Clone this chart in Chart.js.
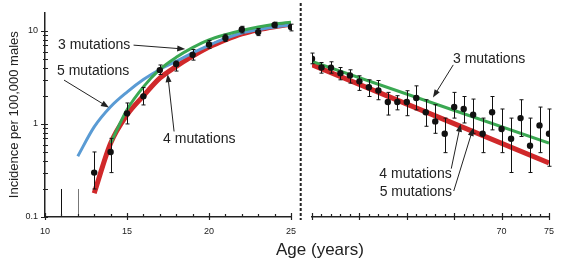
<!DOCTYPE html>
<html>
<head>
<meta charset="utf-8">
<script src="https://cdn.jsdelivr.net/npm/chart.js@4.4.1/dist/chart.umd.min.js"></script>
<style>
  html, body { margin: 0; padding: 0; background: #fff; }
  #wrap { position: relative; width: 563px; height: 262px; overflow: hidden; }
  #wrap canvas { position: absolute; left: 0; top: 0; }
  #xtitle {
    position: absolute; left: 276px; top: 241px;
    font: 17px/17px "Liberation Sans", Arial, sans-serif; color: #222;
  }
</style>
</head>
<body>
<div id="wrap">
  <canvas id="youngChart" width="563" height="262"></canvas>
  <canvas id="oldChart" width="563" height="262"></canvas>
  <div id="xtitle">Age (years)</div>
</div>
<script>
/* ========================================
   Incidence vs age, early onset (10-25) and late (50-75)
   ======================================== */

// --- early onset panel: observed incidence with error bars ---
const youngAges = [11, 12, 13, 14, 15, 16, 17, 18, 19, 20, 21, 22, 23, 24, 25];
const youngRate = [null, null, 0.30, 0.50, 1.30, 1.98, 3.79, 4.40, 5.53, 7.14, 8.40, 10.35, 9.70, 11.6, 11.0];
const youngLow  = [0.10, 0.10, 0.20, 0.30, 1.00, 1.60, 3.40, 3.70, 4.85, 6.50, 7.70, 9.50, 8.90, 10.8, 10.0];
const youngHigh = [0.20, 0.20, 0.50, 0.70, 1.68, 2.46, 4.30, 4.74, 6.30, 7.90, 9.20, 11.2, 10.6, 12.4, 11.8];

// --- early onset panel: model fits ---
const fit3Ages = [14, 15, 16, 17, 18, 19, 20, 21, 22, 23, 24, 25];
const fit3Young = [0.62, 1.42, 2.5, 3.85, 5.2, 6.6, 8.0, 9.1, 10.1, 11.0, 11.8, 12.4];
const fit4Ages = [13, 14, 15, 16, 17, 18, 19, 20, 21, 22, 23, 24, 25];
const fit4Young = [0.18, 0.62, 1.25, 2.0, 3.1, 4.15, 5.35, 6.7, 8.0, 9.3, 10.3, 11.1, 11.8];
const fit5Ages = [12, 13, 14, 15, 16, 17, 18, 19, 20, 21, 22, 23, 24, 25];
const fit5Young = [0.45, 0.93, 1.53, 2.2, 3.0, 3.85, 4.7, 5.8, 7.0, 8.3, 9.5, 10.3, 11.0, 11.6];

// --- late panel: observed incidence with error bars ---
const oldAges = [50, 51, 52, 53, 54, 55, 56, 57, 58, 59, 60, 61, 62, 63, 64, 65, 66, 67, 68, 69, 70, 71, 72, 73, 74, 75];
const oldRate = [4.98, 4.02, 4.00, 3.49, 3.30, 2.85, 2.46, 2.28, 1.71, 1.71, 1.71, 1.89, 1.33, 1.06, 0.78, 1.51, 1.44, 1.25, 0.78, 1.33, 0.88, 0.69, 1.15, 0.58, 0.96, 0.78];
const oldLow  = [4.40, 3.49, 3.49, 2.96, 2.73, 2.28, 1.96, 1.81, 1.24, 1.41, 1.22, 1.41, 0.94, 0.79, 0.49, 1.15, 1.02, 0.79, 0.49, 0.86, 0.49, 0.30, 0.73, 0.30, 0.49, 0.35];
const oldHigh = [5.73, 4.54, 4.62, 4.01, 3.79, 3.27, 2.96, 2.91, 2.17, 2.00, 2.26, 2.55, 1.81, 1.60, 1.15, 2.17, 1.96, 1.84, 1.15, 1.96, 1.44, 1.15, 1.81, 1.15, 1.51, 1.44];

// --- late panel: model fits (straight on log scale) ---
const fitOldAges = [50, 75];
const fit3Old = [4.66, 0.62];
const fit4Old = [4.28, 0.38];

// --- axis labels ---
const yTickLabels = [0.1, 1, 10];
const youngTickLabels = [10, 15, 20, 25];
const oldTickLabels = [70, 75];

const RED = '#d0282a';
const GREEN = '#3aa852';
const BLUE = '#5a9bd4';
const INK = '#222';
const FONT = '"Liberation Sans", Arial, sans-serif';

function pairs(xs, ys) {
    return xs.map((x, i) => ({ x: x, y: ys[i] })).filter(p => p.y !== null);
}

// error bars drawn right before the point dataset (index 0)
const errorBars = {
    id: 'errorBars',
    beforeDatasetDraw(chart, args, opts) {
        if (args.index !== 0) return;
        const { ctx, scales: { x, y } } = chart;
        ctx.save();
        ctx.lineWidth = 1;
        opts.ages.forEach((age, i) => {
            const px = Math.round(x.getPixelForValue(age)) + 0.5;
            const top = y.getPixelForValue(opts.high[i]);
            const bot = y.getPixelForValue(opts.low[i]);
            ctx.strokeStyle = (opts.grey || []).includes(age) ? '#777' : '#111';
            ctx.beginPath();
            ctx.moveTo(px, top);
            ctx.lineTo(px, bot);
            if (opts.rate[i] !== null) {
                ctx.moveTo(px - 2, top); ctx.lineTo(px + 2, top);
                ctx.moveTo(px - 2, bot); ctx.lineTo(px + 2, bot);
            }
            ctx.stroke();
        });
        ctx.restore();
    }
};

// tick marks crossing the axis lines
const axisTicks = {
    id: 'axisTicks',
    afterDraw(chart, args, opts) {
        const { ctx, chartArea, scales: { x, y } } = chart;
        ctx.save();
        ctx.strokeStyle = INK;
        ctx.lineWidth = 1.2;
        ctx.beginPath();
        x.ticks.forEach(t => {
            const px = Math.round(x.getPixelForValue(t.value)) + 0.5;
            const major = t.value % 5 === 0;
            ctx.moveTo(px, chartArea.bottom + (major ? 3 : 0));
            ctx.lineTo(px, chartArea.bottom - (major ? 4 : 3));
        });
        if (y.options.display) {
            // 1..9 x 10^e inside the scale range
            for (let e = Math.floor(Math.log10(y.min)); e <= Math.floor(Math.log10(y.max)); e++) {
                for (let m = 1; m <= 9; m++) {
                    const v = m * Math.pow(10, e);
                    if (v < y.min * 0.999 || v > y.max) continue;
                    const py = Math.round(y.getPixelForValue(v)) + 0.5;
                    ctx.moveTo(chartArea.left - (m === 1 ? 4 : 2), py);
                    ctx.lineTo(chartArea.left + 3, py);
                }
            }
        }
        ctx.stroke();
        if (opts.separator) {
            ctx.lineWidth = 2;
            ctx.setLineDash([3, 2]);
            ctx.beginPath();
            ctx.moveTo(chartArea.left - 11.3, 3);
            ctx.lineTo(chartArea.left - 11.3, chartArea.bottom + 3);
            ctx.stroke();
        }
        ctx.restore();
    }
};

// text labels and arrows, placed in data units
const notes = {
    id: 'notes',
    afterDraw(chart, args, opts) {
        const { ctx, scales: { x, y } } = chart;
        ctx.save();
        ctx.font = '14px ' + FONT;
        ctx.fillStyle = INK;
        ctx.textBaseline = 'middle';
        opts.labels.forEach(n => {
            ctx.fillText(n.text, x.getPixelForValue(n.at[0]), y.getPixelForValue(n.at[1]));
        });
        ctx.strokeStyle = INK;
        ctx.lineWidth = 1;
        opts.arrows.forEach(a => {
            const x0 = x.getPixelForValue(a.from[0]), y0 = y.getPixelForValue(a.from[1]);
            const x1 = x.getPixelForValue(a.to[0]), y1 = y.getPixelForValue(a.to[1]);
            const ang = Math.atan2(y1 - y0, x1 - x0);
            ctx.beginPath();
            ctx.moveTo(x0, y0);
            ctx.lineTo(x1 - 5 * Math.cos(ang), y1 - 5 * Math.sin(ang));
            ctx.stroke();
            ctx.beginPath();
            ctx.moveTo(x1, y1);
            ctx.lineTo(x1 - 8 * Math.cos(ang) + 3 * Math.sin(ang), y1 - 8 * Math.sin(ang) - 3 * Math.cos(ang));
            ctx.lineTo(x1 - 8 * Math.cos(ang) - 3 * Math.sin(ang), y1 - 8 * Math.sin(ang) + 3 * Math.cos(ang));
            ctx.closePath();
            ctx.fillStyle = INK;
            ctx.fill();
        });
        ctx.restore();
    }
};

function fitLine(data, color, width, order) {
    return {
        data: data,
        borderColor: color,
        borderWidth: width,
        pointRadius: 0,
        cubicInterpolationMode: 'monotone',
        borderCapStyle: 'butt',
        order: order
    };
}

function pointSet(data) {
    return {
        data: data,
        showLine: false,
        pointRadius: 3.2,
        pointBackgroundColor: '#111',
        pointBorderWidth: 0,
        order: 0
    };
}

function xScale(min, max, labels) {
    return {
        type: 'linear', min: min, max: max,
        afterFit: s => { s.height = 45; },
        grid: { drawOnChartArea: false, drawTicks: false },
        border: { color: INK, width: 1.5 },
        ticks: {
            stepSize: 1, autoSkip: false, maxRotation: 0, padding: 9,
            color: INK, font: { family: FONT, size: 9 },
            callback: v => labels.includes(v) ? String(v) : ''
        }
    };
}

document.addEventListener('DOMContentLoaded', function() {
    loadYoungChart();
    loadOldChart();
});

function loadYoungChart() {
    new Chart(document.getElementById('youngChart'), {
        type: 'line',
        data: {
            datasets: [
                pointSet(pairs(youngAges, youngRate)),
                fitLine(pairs(fit3Ages, fit3Young), GREEN, 3, 1),
                fitLine(pairs(fit5Ages, fit5Young), BLUE, 3, 2),
                fitLine(pairs(fit4Ages, fit4Young), RED, 5, 3)
            ]
        },
        options: {
            responsive: false,
            animation: false,
            layout: { padding: { left: 0, top: 12, right: 272, bottom: 0 } },
            plugins: {
                legend: { display: false },
                tooltip: { enabled: false },
                errorBars: { ages: youngAges, rate: youngRate, low: youngLow, high: youngHigh, grey: [12] },
                axisTicks: { separator: false },
                notes: {
                    labels: [
                        { text: '3 mutations', at: [10.79, 7.03] },
                        { text: '5 mutations', at: [10.73, 3.72] },
                        { text: '4 mutations', at: [17.2, 0.69] }
                    ],
                    arrows: [
                        { from: [15.4, 7.03], to: [18.55, 6.37] },
                        { from: [11.16, 2.96], to: [13.9, 1.5] },
                        { from: [17.87, 0.83], to: [17.48, 3.43] }
                    ]
                }
            },
            scales: {
                x: xScale(10, 25, youngTickLabels),
                y: {
                    type: 'logarithmic', min: 0.1, max: 15.8,
                    afterFit: s => { s.width = 45; },
                    grid: { drawOnChartArea: false, drawTicks: false },
                    border: { color: INK, width: 1.5 },
                    ticks: {
                        autoSkip: false, padding: 7,
                        color: INK, font: { family: FONT, size: 9 },
                        callback: v => yTickLabels.some(l => Math.abs(l - v) < 1e-9) ? String(v) : ''
                    },
                    title: {
                        display: true,
                        text: 'Incidence per 100,000 males',
                        color: INK,
                        font: { family: FONT, size: 13 },
                        padding: { top: 7, bottom: 0 }
                    }
                }
            }
        },
        plugins: [errorBars, axisTicks, notes]
    });
}

function loadOldChart() {
    new Chart(document.getElementById('oldChart'), {
        type: 'line',
        data: {
            datasets: [
                pointSet(pairs(oldAges, oldRate)),
                fitLine(pairs(fitOldAges, fit3Old), GREEN, 3, 1),
                fitLine(pairs(fitOldAges, fit4Old), RED, 5, 3)
            ]
        },
        options: {
            responsive: false,
            animation: false,
            layout: { padding: { left: 312, top: 12, right: 6, bottom: 0 } },
            plugins: {
                legend: { display: false },
                tooltip: { enabled: false },
                errorBars: { ages: oldAges, rate: oldRate, low: oldLow, high: oldHigh },
                axisTicks: { separator: true },
                notes: {
                    labels: [
                        { text: '3 mutations', at: [64.87, 4.98] },
                        { text: '4 mutations', at: [57.1, 0.291] },
                        { text: '5 mutations', at: [57.14, 0.184] }
                    ],
                    arrows: [
                        { from: [64.9, 4.28], to: [62.76, 1.91] },
                        { from: [64.69, 0.33], to: [65.68, 1.0] },
                        { from: [64.95, 0.19], to: [67.0, 0.90] }
                    ]
                }
            },
            scales: {
                x: xScale(50, 75, oldTickLabels),
                y: { type: 'logarithmic', min: 0.1, max: 15.8, display: false }
            }
        },
        plugins: [errorBars, axisTicks, notes]
    });
}
</script>
</body>
</html>
